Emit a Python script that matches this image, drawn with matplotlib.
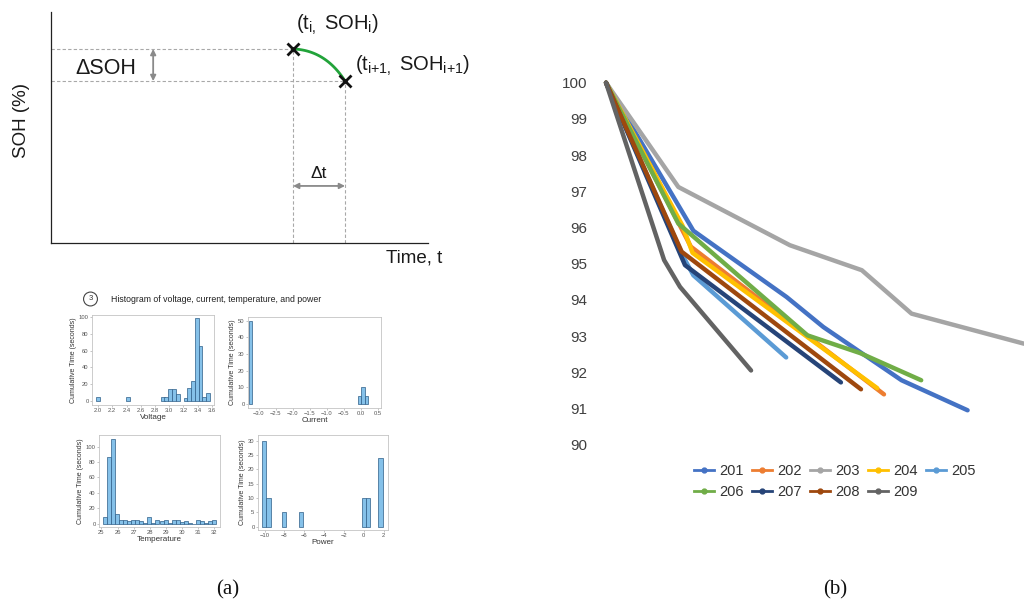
import numpy as np
import matplotlib
matplotlib.use("Agg")
import matplotlib.pyplot as plt
from matplotlib.lines import Line2D

plt.rcParams["font.family"] = ["Liberation Sans", "DejaVu Sans"]
plt.rcParams["mathtext.fontset"] = "custom"
plt.rcParams["mathtext.rm"] = "Liberation Sans"
plt.rcParams["mathtext.it"] = "Liberation Sans:italic"
plt.rcParams["mathtext.bf"] = "Liberation Sans:bold"

# ---------------- data ----------------
# schematic: two consecutive SOH observations
sketch_t = [6.42, 7.80]
sketch_soh = [8.40, 7.01]

# histogram panels (bin centres, counts)
volt_centers = [2.00, 2.42, 2.91, 2.96, 3.01, 3.07, 3.12, 3.23, 3.28, 3.33, 3.39, 3.44, 3.49, 3.55]
volt_counts = [5, 5, 5, 5, 14, 15, 9, 4, 16, 24, 98, 65, 5, 10]
volt_width = 0.0535

curr_centers = [-3.245, -0.04, 0.06, 0.155]
curr_counts = [50, 5, 10, 5]
curr_width = 0.097

temp_centers = [25.225 + 0.25 * k for k in range(28)]
temp_counts = [9, 86, 110, 13, 5, 5, 3, 4, 5, 3, 1, 9, 1, 4, 3, 5, 1, 4, 4, 2, 3, 1, 0, 5, 3, 1, 3, 4]
temp_width = 0.25

power_centers = [-10.05, -9.62, -8.03, -6.37, 0.0, 0.4, 1.69]
power_counts = [30, 10, 5, 5, 10, 10, 24]
power_width = 0.43

# SOH curves per cell
cells = ["201", "202", "203", "204", "205", "206", "207", "208", "209"]
colors = ["#4472C4", "#ED7D31", "#A5A5A5", "#FFC000", "#5B9BD5",
          "#70AD47", "#264478", "#9E480E", "#636363"]
soh_x = {
    "201": [0, 20.9, 43.2, 52.0, 70.7, 86.5],
    "202": [0, 20.3, 66.5],
    "203": [0, 17.3, 44.0, 61.2, 73.1, 100],
    "204": [0, 18.3, 20.7, 64.9],
    "205": [0, 18.5, 20.9, 43.1],
    "206": [0, 17.3, 48.2, 60.8, 75.4],
    "207": [0, 18.9, 56.2],
    "208": [0, 18.1, 61.0],
    "209": [0, 13.9, 17.7, 34.7],
}
soh_y = {
    "201": [100, 95.91, 94.08, 93.25, 91.78, 90.95],
    "202": [100, 95.47, 91.39],
    "203": [100, 97.12, 95.51, 94.82, 93.62, 92.79],
    "204": [100, 96.05, 95.30, 91.56],
    "205": [100, 95.19, 94.68, 92.41],
    "206": [100, 96.11, 93.02, 92.53, 91.78],
    "207": [100, 94.96, 91.72],
    "208": [100, 95.33, 91.53],
    "209": [100, 95.10, 94.36, 92.05],
}
soh_ticks = list(range(90, 101))

# ---------------- layout helpers ----------------
W, H = 1024, 602
fig = plt.figure(figsize=(W / 100, H / 100), dpi=100)


def rect(l, t, r, b):
    return [l / W, 1 - b / H, (r - l) / W, (b - t) / H]


def fx(x):
    return x / W


def fy(y):
    return 1 - y / H


# ---------------- (a) schematic ----------------
ax = fig.add_axes(rect(51, 12, 428, 243))
ax.set_xlim(0, 10)
ax.set_ylim(0, 10)
for s in ["top", "right"]:
    ax.spines[s].set_visible(False)
for s in ["left", "bottom"]:
    ax.spines[s].set_color("#222222")
    ax.spines[s].set_linewidth(0.9)
ax.set_xticks([])
ax.set_yticks([])

dash = dict(color="#a8a8a8", lw=0.8, ls=(0, (3, 2)))
for t, s in zip(sketch_t, sketch_soh):
    ax.plot([0, t], [s, s], **dash)
    ax.plot([t, t], [0, s], **dash)

# green degradation arc between the two observations
tt = np.linspace(0, 1, 60)
p0 = np.array([sketch_t[0], sketch_soh[0]])
p2 = np.array([sketch_t[1], sketch_soh[1]])
p1 = np.array([sketch_t[0] + 0.62 * (sketch_t[1] - sketch_t[0]), sketch_soh[0] - 0.05])
curve = ((1 - tt) ** 2)[:, None] * p0 + (2 * (1 - tt) * tt)[:, None] * p1 + (tt ** 2)[:, None] * p2
ax.plot(curve[:, 0], curve[:, 1], color="#22A33A", lw=2.0, zorder=3)
ax.plot(sketch_t, sketch_soh, ls="none", marker="x", ms=8, mew=2, color="#111111", zorder=4)

arrow = dict(arrowstyle="<|-|>", color="#8a8a8a", lw=1.3, mutation_scale=8, shrinkA=0, shrinkB=0)
ax.annotate("", xy=(2.71, sketch_soh[1]), xytext=(2.71, sketch_soh[0]), arrowprops=arrow)
ax.annotate("", xy=(sketch_t[1], 2.47), xytext=(sketch_t[0], 2.47), arrowprops=arrow)

txt = "#1a1a1a"
fig.text(fx(22), fy(120), "SOH (%)", rotation=90, ha="center", va="center", fontsize=13.5, color=txt)
fig.text(fx(414), fy(258), "Time, t", ha="center", va="center", fontsize=13.5, color=txt)
fig.text(fx(106), fy(68), "\u0394SOH", ha="center", va="center", fontsize=15.5, color=txt)
fig.text(fx(319), fy(174), "\u0394t", ha="center", va="center", fontsize=12.5, color=txt)
fig.text(fx(296), fy(25), r"$\mathrm{(t_{i,}\,\,SOH_{i})}$", ha="left", va="center",
         fontsize=14.5, color=txt)
fig.text(fx(355), fy(66), r"$\mathrm{(t_{i{+}1,}\,\,SOH_{i{+}1})}$", ha="left", va="center",
         fontsize=14.5, color=txt)

# ---------------- histograms ----------------
fig.text(fx(90.5), fy(299), "3", ha="center", va="center", fontsize=5.5, color="#333",
         bbox=dict(boxstyle="circle,pad=0.45", fc="white", ec="#444", lw=0.8))
fig.text(fx(111), fy(299), "Histogram of voltage, current, temperature, and power",
         ha="left", va="center", fontsize=6.3, color="#222")

bar_kw = dict(color="#85C1E9", edgecolor="#2E5E88", linewidth=0.5)


def hist_panel(r, centers, counts, width, xlim, ylim, xticks, yticks, xlabel):
    h = fig.add_axes(rect(*r))
    h.bar(centers, counts, width=width, **bar_kw)
    h.set_xlim(*xlim)
    h.set_ylim(*ylim)
    h.set_xticks(xticks)
    h.set_yticks(yticks)
    for s in h.spines.values():
        s.set_color("#c4c4c4")
        s.set_linewidth(0.6)
    h.tick_params(labelsize=4.2, labelcolor="#555555", color="#999999", length=1.5, width=0.4, pad=1)
    h.set_xlabel(xlabel, fontsize=5.8, color="#333", labelpad=0.5)
    h.set_ylabel("Cumulative Time (seconds)", fontsize=5.0, color="#333", labelpad=1.5)
    return h


hist_panel((92, 315, 214, 405), volt_centers, volt_counts, volt_width,
           (1.915, 3.63), (-4.4, 102), np.round(np.arange(2.0, 3.61, 0.2), 1),
           range(0, 101, 20), "Voltage")
hist_panel((248, 317, 381, 408), curr_centers, curr_counts, curr_width,
           (-3.31, 0.59), (-2.4, 52.2), np.round(np.arange(-3.0, 0.51, 0.5), 1),
           range(0, 51, 10), "Current")
hist_panel((99, 435, 220, 527), temp_centers, temp_counts, temp_width,
           (24.85, 32.35), (-4.5, 115), range(25, 33), range(0, 101, 20), "Temperature")
hist_panel((258, 435, 388, 530), power_centers, power_counts, power_width,
           (-10.67, 2.44), (-1.1, 32), range(-10, 3, 2), range(0, 31, 5), "Power")

# ---------------- (b) SOH curves ----------------
axb = fig.add_axes(rect(600, 75.5, 1024, 451.9))
for cell, c in zip(cells, colors):
    axb.plot(soh_x[cell], soh_y[cell], color=c, lw=3.2, solid_capstyle="round",
             solid_joinstyle="round", clip_on=False)
axb.set_xlim(-1.44, 100)
axb.set_ylim(89.8, 100.2)
axb.set_yticks(soh_ticks)
axb.set_xticks([])
for s in axb.spines.values():
    s.set_visible(False)
axb.tick_params(axis="y", length=0, pad=9, labelsize=11, labelcolor="#404040")
axb.patch.set_alpha(0)

handles = [Line2D([], [], color=c, lw=2, marker="o", ms=3.5) for c in colors]
order = [0, 5, 1, 6, 2, 7, 3, 8, 4]
fig.legend([handles[i] for i in order], [cells[i] for i in order], ncol=5,
           loc="upper left", bbox_to_anchor=(fx(694), fy(464)), frameon=False,
           fontsize=10.5, handlelength=1.37, handletextpad=0.35, columnspacing=0.58,
           labelspacing=0.5, borderpad=0, borderaxespad=0, labelcolor="#333333")

# ---------------- panel labels ----------------
fig.text(fx(228), fy(590), "(a)", ha="center", va="center", fontsize=15,
         family=["Liberation Serif", "DejaVu Serif"], color="#111")
fig.text(fx(835), fy(590), "(b)", ha="center", va="center", fontsize=15,
         family=["Liberation Serif", "DejaVu Serif"], color="#111")

fig.savefig("out.png", dpi=100)
